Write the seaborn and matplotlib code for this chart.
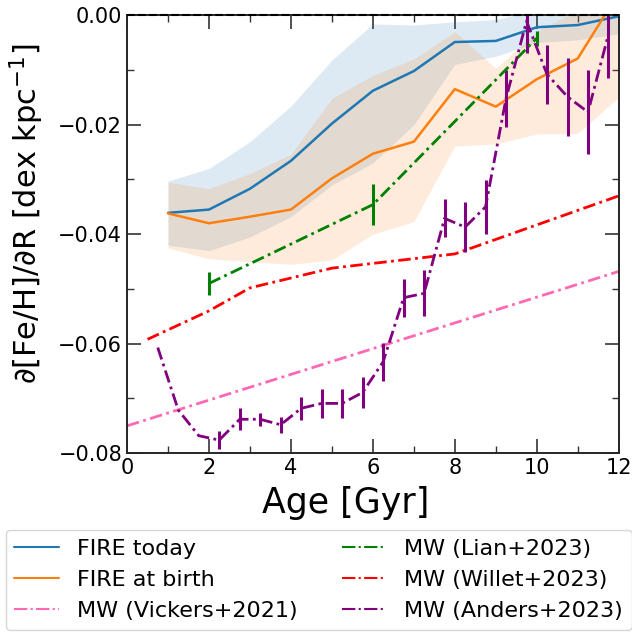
import numpy as np
import pandas as pd
import seaborn as sns
import matplotlib.pyplot as plt
from matplotlib.lines import Line2D

sns.set_style('ticks')
plt.rcParams['font.family'] = ['DejaVu Sans']
plt.rcParams.update({'text.color': 'black', 'axes.labelcolor': 'black',
                     'xtick.color': 'black', 'ytick.color': 'black',
                     'axes.edgecolor': '0.15'})

# FIRE simulations: median gradient vs stellar age, with 1-sigma bands
ages = [1, 2, 3, 4, 5, 6, 7, 8, 9, 10, 11, 12]
today = [-0.0361, -0.0355, -0.0317, -0.0266, -0.0198, -0.0138,
         -0.0102, -0.0049, -0.0047, -0.0022, -0.0018, -0.0002]
today_lo = [-0.0420, -0.0430, -0.0405, -0.0368, -0.0310, -0.0270,
            -0.0200, -0.0090, -0.0075, -0.0050, -0.0045, -0.0034]
today_hi = [-0.0303, -0.0280, -0.0231, -0.0166, -0.0082, -0.0016,
            -0.0018, -0.0012, -0.0008, 0.0010, 0.0020, 0.0030]
birth = [-0.0362, -0.0380, -0.0368, -0.0355, -0.0298, -0.0253,
         -0.0231, -0.0135, -0.0167, -0.0117, -0.0079, 0.0041]
birth_lo = [-0.0425, -0.0445, -0.0450, -0.0455, -0.0447, -0.0400,
            -0.0377, -0.0239, -0.0235, -0.0217, -0.0216, -0.0150]
birth_hi = [-0.0305, -0.0317, -0.0289, -0.0254, -0.0152, -0.0110,
            -0.0080, -0.0030, -0.0097, -0.0030, 0.0010, 0.0030]

# Milky Way observations
vickers_age = [0, 12]
vickers = [-0.0750, -0.0468]

lian_age = [2, 6, 10]
lian = [-0.0490, -0.0346, -0.0042]
lian_err = [0.0021, 0.0037, 0.0014]

willet_age = [0.5, 2, 3, 5, 8, 12]
willet = [-0.0592, -0.0540, -0.0498, -0.0462, -0.0436, -0.0330]

anders_age = [0.75, 1.25, 1.75, 2.25, 2.75, 3.25, 3.75, 4.25, 4.75, 5.25,
              5.75, 6.25, 6.75, 7.25, 7.75, 8.25, 8.75, 9.25, 9.75, 10.25,
              10.75, 11.25, 11.75]
anders = [-0.0607, -0.0721, -0.0768, -0.0776, -0.0738, -0.0738, -0.0748,
          -0.0718, -0.0709, -0.0709, -0.0689, -0.0633, -0.0516, -0.0508,
          -0.0371, -0.0387, -0.0350, -0.0152, -0.0011, -0.0108, -0.0149,
          -0.0177, -0.0035]
anders_err = [0.0, 0.0, 0.0, 0.0016, 0.0020, 0.0012, 0.0015, 0.0021, 0.0027,
              0.0026, 0.0028, 0.0035, 0.0035, 0.0042, 0.0035, 0.0045, 0.0049,
              0.0052, 0.0058, 0.0054, 0.0071, 0.0077, 0.0080]

df = pd.DataFrame({'age': ages, 'today': today, 'birth': birth})

dashdot = (0, (4.5, 1.6, 1, 1.6))

fig = plt.figure(figsize=(6.32, 6.33), dpi=100)
ax = fig.add_axes([0.201, 0.284, 0.778, 0.692])

ax.fill_between(ages, today_lo, today_hi, color='C0', alpha=0.15, lw=0)
ax.fill_between(ages, birth_lo, birth_hi, color='C1', alpha=0.15, lw=0)

sns.lineplot(x='age', y='today', data=df, ax=ax, color='C0', lw=1.8)
sns.lineplot(x='age', y='birth', data=df, ax=ax, color='C1', lw=1.8)

ax.axhline(0, color='k', ls='--', lw=1.5, clip_on=False, zorder=5)

ax.plot(vickers_age, vickers, color='hotpink', ls=dashdot, lw=2)
ax.errorbar(lian_age, lian, yerr=lian_err, color='green', ls=dashdot, lw=2,
            elinewidth=2.2)
ax.plot(willet_age, willet, color='red', ls=dashdot, lw=2)
ax.errorbar(anders_age, anders, yerr=anders_err, color='purple', ls=dashdot,
            lw=2, elinewidth=2.2)

ax.set_xlim(0, 12)
ax.set_ylim(-0.08, 0.0)
ax.set_xticks(np.arange(0, 13, 2))
ax.set_xticks(np.arange(1, 12, 2), minor=True)
ax.set_yticks([-0.08, -0.06, -0.04, -0.02, 0.0])
ax.set_yticks([-0.07, -0.05, -0.03, -0.01], minor=True)
ax.tick_params(which='both', direction='in', top=True, right=True,
               labelsize=15)
ax.tick_params(which='major', length=10, width=1.2, color='0.2')
ax.tick_params(which='minor', length=5, width=1, color='0.2')
for s in ax.spines.values():
    s.set_linewidth(1.4)

ax.set_xlabel('Age [Gyr]', fontsize=25)
ax.set_ylabel('∂[Fe/H]/∂R [dex kpc$^{-1}$]', fontsize=22)
ax.xaxis.set_label_coords(0.445, -0.075)
ax.yaxis.set_label_coords(-0.165, 0.546)

handles = [Line2D([], [], color='C0', lw=1.5),
           Line2D([], [], color='C1', lw=1.5),
           Line2D([], [], color='hotpink', ls='-.', lw=1.5),
           Line2D([], [], color='green', ls='-.', lw=1.5),
           Line2D([], [], color='red', ls='-.', lw=1.5),
           Line2D([], [], color='purple', ls='-.', lw=1.5)]
labels = ['FIRE today', 'FIRE at birth', 'MW (Vickers+2021)',
          'MW (Lian+2023)', 'MW (Willet+2023)', 'MW (Anders+2023)']
fig.legend(handles, labels, ncol=2, fontsize=16, loc='upper center',
           bbox_to_anchor=(0.504, 0.163), borderaxespad=0,
           labelspacing=0.5)

fig.savefig('out.png', dpi=100)
